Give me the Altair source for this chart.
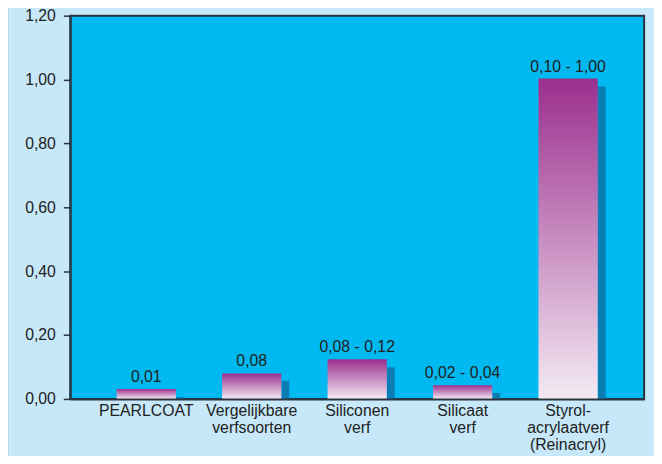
import altair as alt
import pandas as pd

categories = ["PEARLCOAT", "Vergelijkbare|verfsoorten", "Siliconen|verf", "Silicaat|verf", "Styrol-|acrylaatverf|(Reinacryl)"]
main_values = [0.031, 0.080, 0.124, 0.043, 1.003]
shadow_values = [0.006, 0.057, 0.099, 0.019, 0.978]
value_labels = ["0,01", "0,08", "0,08 - 0,12", "0,02 - 0,04", "0,10 - 1,00"]
y_ticks = [0.0, 0.2, 0.4, 0.6, 0.8, 1.0, 1.2]
title_text = "[ m ]"

df = pd.DataFrame({
    "cat": categories,
    "main": main_values,
    "shadow": shadow_values,
    "label": value_labels,
})

FONT = "Liberation Sans"
DARK = "#2b3540"
OUTER = "#c6e8f8"
INNER = "#00b9f0"

x_enc = alt.X(
    "cat:N",
    sort=None,
    title=None,
    scale=alt.Scale(paddingInner=0, paddingOuter=0.221),
    axis=alt.Axis(
        labelAngle=0,
        ticks=False,
        labelPadding=4,
        labelFontSize=16,
        labelFont=FONT,
        labelColor="#222222",
        labelLineHeight=17,
        labelExpr="split(datum.label, '|')",
        domainColor=DARK,
        domainWidth=2,
        labelBaseline="top",
        zindex=1,
    ),
)

y_scale = alt.Scale(domain=[0, 1.2], nice=False)
y_axis = alt.Axis(
    values=y_ticks,
    grid=False,
    tickSize=7,
    tickColor=DARK,
    tickWidth=1.5,
    labelPadding=8,
    labelFontSize=16,
    labelFont=FONT,
    labelColor="#222222",
    labelExpr="replace(format(datum.value, '.2f'), '.', ',')",
    domainColor=DARK,
    domainWidth=2,
    zindex=1,
)

one = pd.DataFrame({"a": [0]})

outer_bg = alt.Chart(one).mark_rect(color=OUTER).encode(
    x=alt.value(-71), x2=alt.value(591), y=alt.value(-13), y2=alt.value(451)
)

plot_bg = alt.Chart(one).mark_rect(fill=INNER, stroke=DARK, strokeWidth=2).encode(
    x=alt.value(0), x2=alt.value(581), y=alt.value(0), y2=alt.value(388)
)

base = alt.Chart(df)

shadow = base.mark_bar(width=8, xOffset=34, color="#0a7db5").encode(
    x=x_enc,
    y=alt.Y("shadow:Q", scale=y_scale, axis=y_axis, title=None),
)

gradient = alt.LinearGradient(
    gradient="linear",
    stops=[
        alt.GradientStop(color="#9b2f8e", offset=0),
        alt.GradientStop(color="#f4eaf3", offset=1),
    ],
    x1=0, x2=0, y1=0, y2=1,
)

bars = base.mark_bar(width=60, fill=gradient).encode(
    x=x_enc,
    y=alt.Y("main:Q", scale=y_scale, axis=y_axis, title=None),
)

texts = base.mark_text(
    dy=-7, baseline="alphabetic", fontSize=16, font=FONT, color="#222222"
).encode(
    x=x_enc,
    y=alt.Y("main:Q", scale=y_scale, axis=y_axis, title=None),
    text="label:N",
)

border = alt.Chart(one).mark_rule(color="#555555", strokeWidth=1.2).encode(
    x=alt.value(-63.5),
    y=alt.value(-13),
    y2=alt.value(451),
)

title = alt.Chart(pd.DataFrame({"t": [title_text]})).mark_text(
    fontSize=20, fontWeight="bold", font=FONT, color="#222222", baseline="alphabetic"
).encode(
    x=alt.value(214),
    y=alt.value(-12),
    text="t:N",
)

chart = alt.layer(outer_bg, plot_bg, border, shadow, bars, texts, title).properties(
    width=581,
    height=388,
    autosize=alt.AutoSizeParams(type="none"),
    padding={"left": 63, "top": 5, "right": 10, "bottom": 55},
    background=OUTER,
).configure_view(
    fill=INNER,
    strokeWidth=0,
)

chart.save("out.html", embed_options={"renderer": "svg", "actions": False})
